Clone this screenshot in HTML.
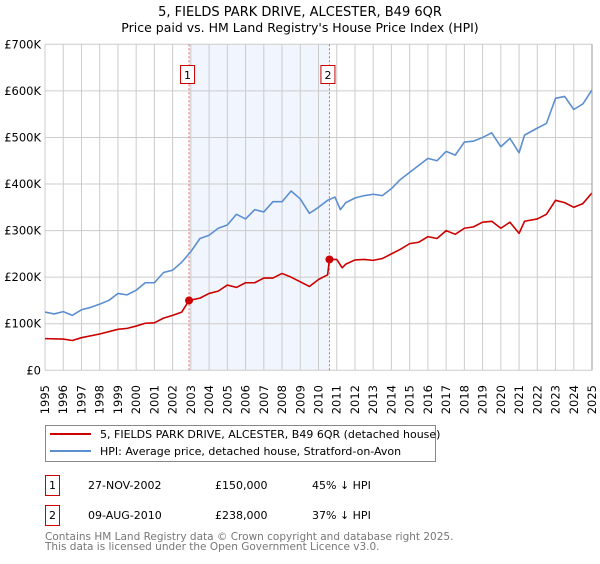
<!DOCTYPE html>
<html><head><meta charset="utf-8"><style>
body{margin:0;background:#fff;font-family:"DejaVu Sans","Liberation Sans",sans-serif;}
svg text{font-family:"DejaVu Sans","Liberation Sans",sans-serif;}
</style></head><body>
<svg id="chart" width="600" height="560" xmlns="http://www.w3.org/2000/svg">
<text x="300" y="16" text-anchor="middle" font-size="13">5, FIELDS PARK DRIVE, ALCESTER, B49 6QR</text>
<text x="300" y="32" text-anchor="middle" font-size="12.5">Price paid vs. HM Land Registry's House Price Index (HPI)</text>
<g id="plot"></g>
<g>
<rect x="45.5" y="425.5" width="390" height="36" fill="#fff" stroke="#888"/>
<line x1="50" y1="434" x2="91" y2="434" stroke="#cc0000" stroke-width="2"/>
<text x="100" y="438" font-size="11">5, FIELDS PARK DRIVE, ALCESTER, B49 6QR (detached house)</text>
<line x1="50" y1="451" x2="91" y2="451" stroke="#5b8fd0" stroke-width="2"/>
<text x="100" y="455" font-size="11">HPI: Average price, detached house, Stratford-on-Avon</text>
</g>
<g font-size="11">
<rect x="45.5" y="475.5" width="14" height="20" fill="#fff" stroke="#cc0000"/>
<text x="52.5" y="489" text-anchor="middle">1</text>
<text x="88" y="489">27-NOV-2002</text>
<text x="215" y="489">£150,000</text>
<text x="312" y="489">45% ↓ HPI</text>
<rect x="45.5" y="505.5" width="14" height="20" fill="#fff" stroke="#cc0000"/>
<text x="52.5" y="519" text-anchor="middle">2</text>
<text x="88" y="519">09-AUG-2010</text>
<text x="215" y="519">£238,000</text>
<text x="312" y="519">37% ↓ HPI</text>
</g>
<text x="45" y="540" font-size="10.5" fill="#777">Contains HM Land Registry data © Crown copyright and database right 2025.</text>
<text x="45" y="550" font-size="10.5" fill="#777">This data is licensed under the Open Government Licence v3.0.</text>
</svg>
<script>
const hpiYears=[1995,1995.5,1996,1996.5,1997,1997.5,1998,1998.5,1999,1999.5,2000,2000.5,2001,2001.5,2002,2002.5,2003,2003.5,2004,2004.5,2005,2005.5,2006,2006.5,2007,2007.5,2008,2008.5,2009,2009.5,2010,2010.5,2010.9,2011.2,2011.5,2012,2012.5,2013,2013.5,2014,2014.5,2015,2015.5,2016,2016.5,2017,2017.5,2018,2018.5,2019,2019.5,2020,2020.5,2021,2021.3,2022,2022.5,2023,2023.5,2024,2024.5,2025];
const hpiValues=[125,121,126,118,130,135,142,150,165,162,172,188,188,210,215,232,255,283,290,305,312,335,325,345,340,362,362,385,368,337,350,365,372,345,360,370,375,378,375,390,410,425,440,455,450,470,462,490,492,500,510,480,498,467,505,520,530,584,588,560,572,602];
const redYears=[1995,1996,1996.5,1997,1998,1999,1999.5,2000,2000.5,2001,2001.5,2002,2002.5,2002.9,2003.5,2004,2004.5,2005,2005.5,2006,2006.5,2007,2007.5,2008,2008.5,2009,2009.5,2010,2010.5,2010.6,2011,2011.3,2011.5,2012,2012.5,2013,2013.5,2014,2014.5,2015,2015.5,2016,2016.5,2017,2017.5,2018,2018.5,2019,2019.5,2020,2020.5,2021,2021.3,2022,2022.5,2023,2023.5,2024,2024.5,2025];
const redValues=[68,67,64,70,78,88,90,95,101,102,112,118,125,150,155,165,170,183,178,188,188,198,198,208,200,190,180,195,205,238,238,220,228,237,238,236,240,250,260,272,275,287,283,300,292,305,308,318,320,305,318,294,320,325,335,365,360,350,358,381];
const saleYears=[2002.9,2010.6];
const saleValues=[150,238];
const saleLabels=["1","2"];
const yTicks=[0,100,200,300,400,500,600,700];
const yTickLabels=["£0","£100K","£200K","£300K","£400K","£500K","£600K","£700K"];
const xTicks=[];for(let y=1995;y<=2025;y++)xTicks.push(y);

const X0=45,X1=592,Y0=370.3,Y1=44.3;
const xs=y=>X0+(y-1995)/30*(X1-X0);
const ys=v=>Y0-v/700*(Y0-Y1);
const NS="http://www.w3.org/2000/svg";
const g=document.getElementById('plot');
function mk(t,a){const e=document.createElementNS(NS,t);for(const k in a)e.setAttribute(k,a[k]);g.appendChild(e);return e;}
let sh=mk('rect',{x:xs(saleYears[0]),y:Y1,width:xs(saleYears[1])-xs(saleYears[0]),height:Y0-Y1,fill:'#eef3fc',opacity:0.8});


xTicks.forEach(y=>{const l=mk('line',{x1:xs(y),x2:xs(y),y1:Y1,y2:Y0,stroke:'#ccc'});


const t=mk('text',{transform:`translate(${xs(y)+4},${Y0+44}) rotate(-90)`,'font-size':11.5});t.textContent=y;

});
yTicks.forEach((v,i)=>{const l=mk('line',{x1:X0,x2:X1,y1:ys(v),y2:ys(v),stroke:'#ccc'});


const t=mk('text',{x:41,y:ys(v)+4,'text-anchor':'end','font-size':11.5});t.textContent=yTickLabels[i];

});
saleYears.forEach((y,i)=>{const l=mk('line',{x1:xs(y),x2:xs(y),y1:Y1,y2:Y0,stroke:'#f06060','stroke-dasharray':'2,2'});


const r=mk('rect',{x:xs(y)-8.5,y:65.5,width:14,height:18,fill:'#fff',stroke:'#cc0000'});


const t=mk('text',{x:xs(y)-1.5,y:79,'text-anchor':'middle','font-size':11});t.textContent=saleLabels[i];

});
function line(xsA,vs,c,n){const p=mk('polyline',{points:xsA.map((y,i)=>xs(y)+','+ys(vs[i])).join(' '),fill:'none',stroke:c,'stroke-width':1.6,'stroke-linejoin':'round'});

}
line(hpiYears,hpiValues,'#5b8fd0','hpi-line');
line(redYears,redValues,'#cc0000','property-line');
saleYears.forEach((y,i)=>{const c=mk('circle',{cx:xs(y),cy:ys(saleValues[i]),r:4,fill:'#cc0000'});

});
const r=mk('line',{x1:X1,x2:X1,y1:Y1,y2:Y0,stroke:'#999'});


</script>
</body></html>
